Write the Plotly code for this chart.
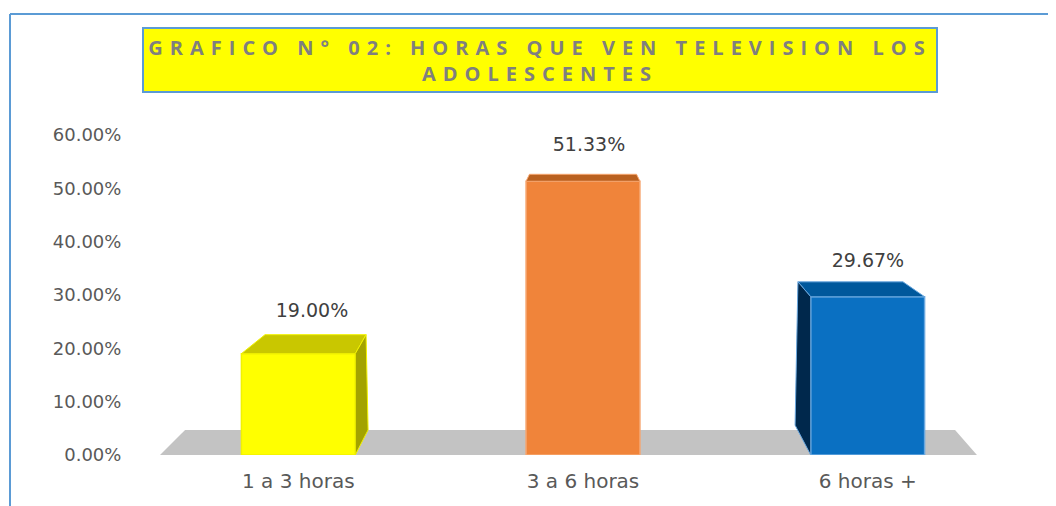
import plotly.graph_objects as go

# ---- data ----
categories = ["1 a 3 horas", "3 a 6 horas", "6 horas +"]
values = [0.19, 0.5133, 0.2967]
y_ticks = [0, 0.1, 0.2, 0.3, 0.4, 0.5, 0.6]
title_line1 = "GRAFICO N° 02: HORAS QUE VEN TELEVISION LOS"
title_line2 = "ADOLESCENTES"

# ---- styles ----
front_colors = ["#FFFF00", "#F0843A", "#0A70C2"]
edge_colors = ["#F2F200", "#F6A56E", "#6AA8E0"]
top_colors = ["#C9C700", "#B9601F", "#00589C"]
side_colors = ["#A3A300", None, "#00284C"]
half_w = 0.2
# per-bar 3D geometry (offsets in axis units)
geo = [
    dict(bl=0.083, br=0.038, dy=0.0356, side="right", sb_dx=0.045, sb_dy=0.047),
    dict(bl=0.012, br=-0.012, dy=0.013, side=None, sb_dx=0, sb_dy=0),
    dict(bl=-0.045, br=-0.076, dy=0.028, side="left", sb_dx=-0.055, sb_dy=0.056),
]
label_dx = [0.048, 0.021, 0.001]
label_dy = [0.078, 0.065, 0.065]

xpos = list(range(len(categories)))

fig = go.Figure()

# front faces (real bars)
fig.add_trace(go.Bar(
    x=xpos, y=values, width=2 * half_w,
    marker=dict(color=front_colors, line=dict(color=edge_colors, width=1.5)),
    hoverinfo="skip", showlegend=False,
))

# top and side faces
for i, (x0, v) in enumerate(zip(xpos, values)):
    g = geo[i]
    xl, xr = x0 - half_w, x0 + half_w
    tx = [xl, xr, xr + g["br"], xl + g["bl"], xl]
    ty = [v, v, v + g["dy"], v + g["dy"], v]
    fig.add_trace(go.Scatter(
        x=tx, y=ty, mode="lines", fill="toself", fillcolor=top_colors[i],
        line=dict(color=edge_colors[i], width=1), hoverinfo="skip", showlegend=False,
    ))
    if g["side"] == "right":
        sx = [xr, xr, xr + g["br"], xr + g["sb_dx"], xr]
        sy = [0, v, v + g["dy"], g["sb_dy"], 0]
    elif g["side"] == "left":
        sx = [xl, xl, xl + g["bl"], xl + g["sb_dx"], xl]
        sy = [0, v, v + g["dy"], g["sb_dy"], 0]
    else:
        continue
    fig.add_trace(go.Scatter(
        x=sx, y=sy, mode="lines", fill="toself", fillcolor=side_colors[i],
        line=dict(color=edge_colors[i], width=1), hoverinfo="skip", showlegend=False,
    ))

# data labels
fig.add_trace(go.Scatter(
    x=[x + d for x, d in zip(xpos, label_dx)],
    y=[v + d for v, d in zip(values, label_dy)],
    mode="text", text=[f"{v*100:.2f}%" for v in values],
    textposition="middle center",
    textfont=dict(family="DejaVu Sans", size=19, color="#404040"),
    hoverinfo="skip", showlegend=False,
))

# floor
fig.add_shape(
    type="path", xref="x", yref="y", layer="below",
    path="M -0.486 0 L 2.384 0 L 2.307 0.047 L -0.398 0.047 Z",
    fillcolor="#C3C3C3", line=dict(width=0),
)

# page offset compensation (body margin of the html page)
OFF = 8
L, R, T, B = 156 - OFF, 1010 - OFF, 135 - OFF, 455 - OFF
def px_x(p):
    return (p - OFF - L) / (R - L)
def px_y(p):
    return (B - (p - OFF)) / (B - T)

# outer chart border (top and left edges visible)
fig.add_shape(type="line", xref="paper", yref="paper",
              x0=px_x(10), x1=px_x(1080), y0=px_y(14), y1=px_y(14),
              line=dict(color="#5B9BD5", width=2))
fig.add_shape(type="line", xref="paper", yref="paper",
              x0=px_x(10), x1=px_x(10), y0=px_y(14), y1=px_y(530),
              line=dict(color="#5B9BD5", width=2))

# title box
sp = "letter-spacing:7px"
fig.add_annotation(
    xref="paper", yref="paper", x=px_x(540), y=px_y(60.5),
    xanchor="center", yanchor="middle", showarrow=False,
    text=f'<span style="{sp}">{title_line1}</span><br><span style="{sp}">{title_line2}</span>',
    font=dict(family="Open Sans", size=20, color="#7F7F7F", weight="bold"),
    bgcolor="#FFFF00", bordercolor="#5B9BD5", borderwidth=2, borderpad=1,
    width=790, height=60, align="center",
)

fig.update_layout(
    width=1056, height=506,
    margin=dict(l=L, r=1056 - R, t=T, b=506 - B, pad=0),
    paper_bgcolor="white", plot_bgcolor="white",
    xaxis=dict(
        range=[-0.5, 2.5], tickmode="array", tickvals=xpos, ticktext=categories,
        showgrid=False, zeroline=False, showline=False,
        ticks="outside", ticklen=8, tickcolor="rgba(0,0,0,0)",
        tickfont=dict(family="DejaVu Sans", size=20, color="#595959"),
    ),
    yaxis=dict(
        range=[0, 0.6], tickmode="array", tickvals=y_ticks,
        ticktext=[f"{t*100:.2f}%" for t in y_ticks],
        showgrid=False, zeroline=False, showline=False,
        ticks="outside", ticklen=30, tickcolor="rgba(0,0,0,0)",
        tickfont=dict(family="DejaVu Sans", size=18, color="#595959"),
    ),
)

fig.write_html("out.html")
